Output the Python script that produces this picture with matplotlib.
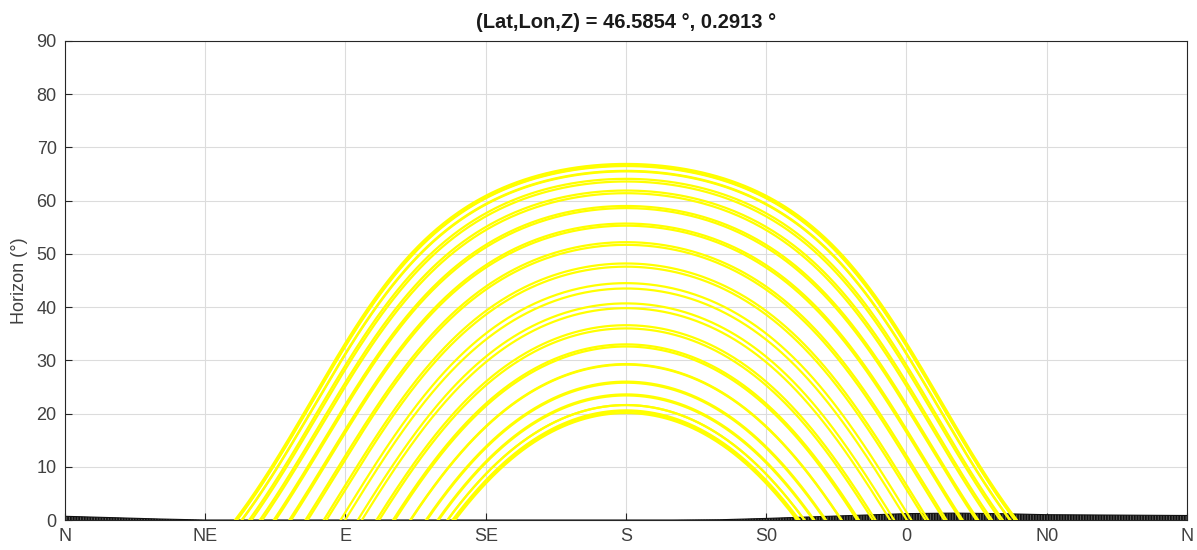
import matplotlib
matplotlib.use("Agg")
import matplotlib.pyplot as plt
import numpy as np

plt.rcParams['font.family'] = ['Liberation Sans', 'DejaVu Sans']
plt.rcParams['hatch.linewidth'] = 1.2

lat = 46.5854
lon = 0.2913

# noon sun elevation (deg) read at S for each date (1st, 11th, 21st of each month)
noon_elev = [20.4, 21.6, 23.4, 26.0, 29.2, 32.6, 36.0, 39.8, 43.5, 47.6, 51.7, 55.3,
             58.6, 61.4, 63.6, 65.5, 66.6, 66.9,
             66.5, 65.6, 64.1, 61.9, 59.0, 55.7, 52.2, 48.2, 44.5, 40.7, 36.6, 33.0,
             29.3, 25.8, 23.6, 21.6, 20.6, 20.1]

# horizon profile (deg) every 15 deg of azimuth
hor_az = [0, 15, 30, 45, 60, 75, 90, 105, 120, 135, 150, 165, 180, 195, 210,
          225, 240, 255, 270, 285, 300, 315, 330, 345, 360]
hor_h = [0.7, 0.45, 0.2, 0.0, 0.0, 0.0, 0.0, 0.0, 0.0, 0.0, 0.0, 0.0, 0.0, 0.0, 0.05,
         0.3, 0.6, 0.9, 1.2, 1.3, 1.2, 1.0, 0.95, 0.9, 0.85]

tick_pos = [0, 45, 90, 135, 180, 225, 270, 315, 360]
tick_lab = ['N', 'NE', 'E', 'SE', 'S', 'S0', '0', 'N0', 'N']


# sun path (azimuth from north, elevation) for a given declination
def sun_path(dec):
    p = np.radians(lat)
    d = np.radians(dec)
    h0 = np.arccos(np.clip(-np.tan(p) * np.tan(d), -1, 1))
    H = np.linspace(-h0, h0, 400)
    el = np.degrees(np.arcsin(np.sin(p) * np.sin(d) + np.cos(p) * np.cos(d) * np.cos(H)))
    az = np.degrees(np.arctan2(np.sin(H), np.cos(H) * np.sin(p) - np.tan(d) * np.cos(p))) + 180
    return az, el


fig = plt.figure(figsize=(11.97, 5.5), dpi=100)
ax = fig.add_axes([0.0543, 0.0545, 0.9373, 0.871])

# horizon first, sun paths drawn over it
ax.fill_between(hor_az, 0, hor_h, facecolor='#555555', edgecolor='#111111', hatch='||||||', lw=0, zorder=2)
ax.plot(hor_az, hor_h, color='#111111', lw=0.8, zorder=2)

for e in noon_elev:
    dec = e - (90 - lat)
    az, el = sun_path(dec)
    ax.plot(az, el, color='#ffff00', lw=1.6, zorder=3)

ax.set_xlim(0, 360)
ax.set_ylim(0, 90)
ax.set_xticks(tick_pos)
ax.set_xticklabels(tick_lab)
ax.set_yticks(np.arange(0, 91, 10))
ax.grid(True, color='#dcdcdc', lw=0.8)
ax.set_axisbelow(True)
ax.tick_params(direction='in', length=5, labelsize=13, colors='#262626', labelcolor='#404040', width=0.8, pad=6)
for s in ax.spines.values():
    s.set_color('#262626')
    s.set_linewidth(0.8)

ax.set_ylabel('Horizon (°)', fontsize=13, color='#404040', labelpad=6)
ax.set_title('(Lat,Lon,Z) = %.4f °, %.4f °' % (lat, lon), fontsize=14.5, fontweight='bold', color='#1a1a1a', pad=9)

fig.savefig('out.png', dpi=100)
